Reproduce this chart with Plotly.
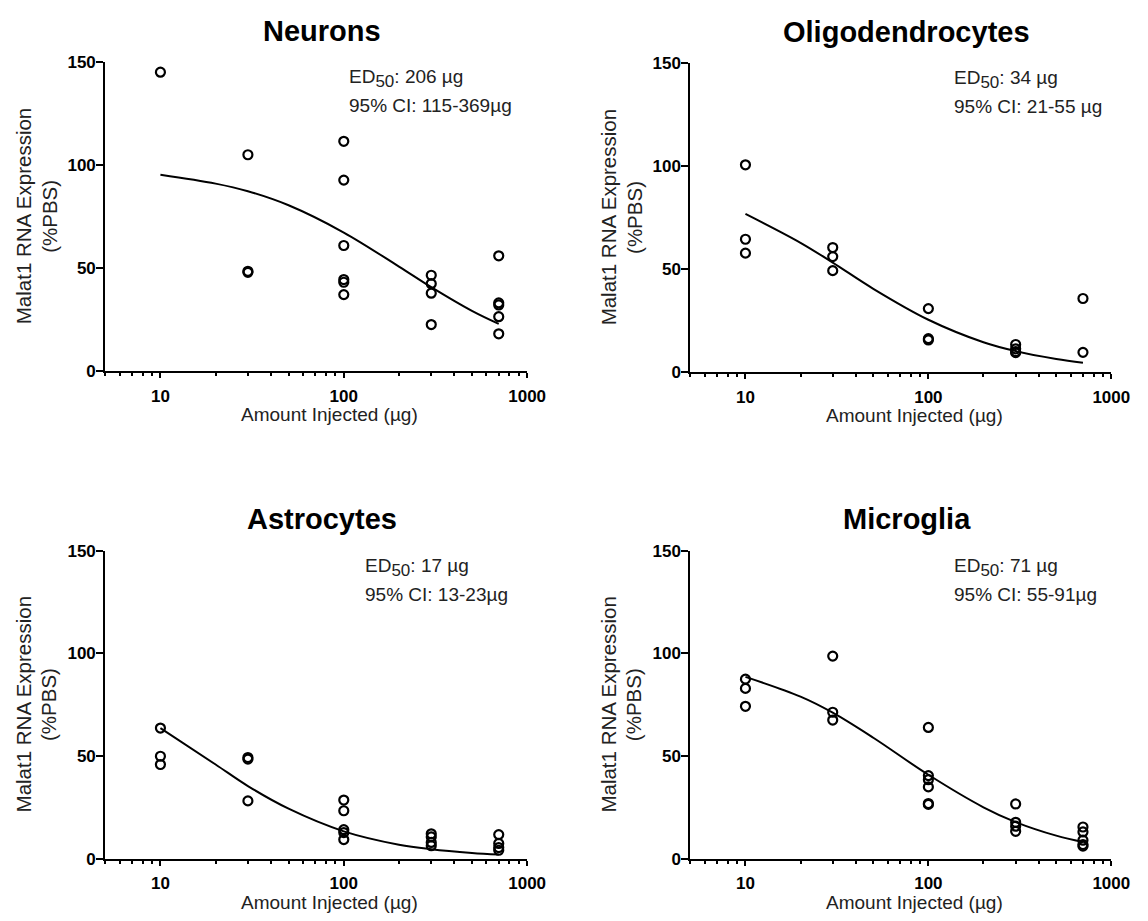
import plotly.graph_objects as go

# ---------------- data ----------------
doses = [10, 30, 100, 300, 700]
curve_doses = [10, 20, 30, 50, 100, 200, 300, 500, 700]

panel_titles = ["Neurons", "Oligodendrocytes", "Astrocytes", "Microglia"]
SUB = "ED<sub><span style='font-size:17px'>50</span></sub>"
ed50_labels = [SUB + ": 206 µg", SUB + ": 34 µg", SUB + ": 17 µg", SUB + ": 71 µg"]
ci_labels = ["95% CI: 115-369µg", "95% CI: 21-55 µg",
             "95% CI: 13-23µg", "95% CI: 55-91µg"]

# points grouped by dose (10, 30, 100, 300, 700 µg)
neurons_points = [[145], [105, 48.5, 48], [111.5, 92.7, 61, 44.5, 43.2, 37.2],
                  [46.6, 42.5, 37.9, 22.7], [56, 33.2, 32.2, 26.5, 18.2]]
oligo_points = [[100.6, 64.5, 57.8], [60.5, 56.1, 49.3], [30.9, 16.3, 15.7],
                [13.5, 11.4, 10.0, 9.6], [35.8, 9.7]]
astro_points = [[63.7, 50, 46], [49.4, 48.6, 28.3], [28.7, 23.5, 14.3, 12.9, 9.5],
                [12.3, 10.8, 8.1, 6.5], [11.9, 7.6, 5.6, 4.3]]
micro_points = [[87.5, 83, 74.3], [98.7, 71.4, 67.6], [64, 40.6, 38.6, 35.1, 27, 26.6],
                [26.8, 17.9, 16.0, 13.5], [15.6, 13.2, 9.2, 7.1, 6.3]]

# fitted curves at curve_doses
neurons_curve = [95.3, 91, 87.3, 80.5, 67.3, 50.8, 40.8, 29.3, 23]
oligo_curve = [76.8, 62.8, 53.2, 40.5, 25.5, 14.6, 10.3, 6.5, 4.6]
astro_curve = [63.7, 46, 35.5, 24.5, 13.5, 7, 4.8, 3, 2.2]
micro_curve = [88.6, 79, 71.2, 59, 41, 25.2, 18, 11.4, 8.3]

y_ticks = [0, 50, 100, 150]
x_ticks = [10, 100, 1000]
x_tick_text = ["10", "100", "1000"]

# ---------------- layout helpers ----------------
W, H = 1148, 921
FONT = "Arial, Liberation Sans, sans-serif"


def px(x):
    return x / W


def py(y):
    return 1 - y / H


# pixel boxes of each plot area: (left, right, top, bottom)
boxes = [(107, 536, 54, 370), (702, 1130, 55, 371),
         (107, 536, 553, 868), (702, 1130, 553, 868)]

points_all = [neurons_points, oligo_points, astro_points, micro_points]
curves_all = [neurons_curve, oligo_curve, astro_curve, micro_curve]

fig = go.Figure()
annotations = []

for i in range(4):
    xa = "x" if i == 0 else f"x{i + 1}"
    ya = "y" if i == 0 else f"y{i + 1}"
    xs, ys = [], []
    for d, vals in zip(doses, points_all[i]):
        for v in vals:
            xs.append(d)
            ys.append(v)
    fig.add_trace(go.Scatter(
        x=curve_doses, y=curves_all[i], mode="lines",
        line=dict(color="black", width=2, shape="spline", smoothing=1.0),
        xaxis=xa, yaxis=ya, showlegend=False, hoverinfo="skip"))
    fig.add_trace(go.Scatter(
        x=xs, y=ys, mode="markers",
        marker=dict(symbol="circle-open", size=9, color="black",
                    line=dict(color="black", width=2.2)),
        xaxis=xa, yaxis=ya, showlegend=False))

    l, r, t, b = boxes[i]
    axis_x = dict(
        type="log", range=[0.69897, 3.0], domain=[px(l), px(r)],
        anchor=ya, showline=True, linecolor="black", linewidth=2,
        showgrid=False, zeroline=False,
        tickmode="array", tickvals=x_ticks, ticktext=x_tick_text,
        ticks="outside", ticklen=5, tickwidth=2, tickcolor="black",
        ticklabelstandoff=3,
        tickfont=dict(family=FONT, size=17, color="black", weight="bold"),
        minor=dict(ticks="outside", ticklen=3, tickwidth=1.5,
                   tickcolor="black", dtick="D1", showgrid=False),
    )
    axis_y = dict(
        range=[0, 150], domain=[py(b), py(t)], anchor=xa,
        showline=True, linecolor="black", linewidth=2,
        showgrid=False, zeroline=False,
        tickmode="array", tickvals=y_ticks,
        ticks="outside", ticklen=7, tickwidth=2, tickcolor="black",
        ticklabelstandoff=-3,
        tickfont=dict(family=FONT, size=17, color="black", weight="bold"),
    )
    key = "" if i == 0 else str(i + 1)
    fig.update_layout(**{f"xaxis{key}": axis_x, f"yaxis{key}": axis_y})

    cx = (l + r) / 2
    # panel title
    annotations.append(dict(
        x=px(cx + 6), y=py(t - 32), xref="paper", yref="paper",
        text=f"<b>{panel_titles[i]}</b>", showarrow=False,
        xanchor="center", yanchor="middle",
        font=dict(family=FONT, size=29, color="black")))
    # x axis title
    annotations.append(dict(
        x=px(cx + 14), y=py(b + 44), xref="paper", yref="paper",
        text="Amount Injected (µg)", showarrow=False,
        xanchor="center", yanchor="middle",
        font=dict(family=FONT, size=19, color="#222")))
    # y axis title (two lines)
    cy = (t + b) / 2
    annotations.append(dict(
        x=px(l - 83), y=py(cy), xref="paper", yref="paper",
        text="Malat1 RNA Expression", showarrow=False, textangle=-90,
        xanchor="center", yanchor="middle",
        font=dict(family=FONT, size=20.5, color="#222")))
    annotations.append(dict(
        x=px(l - 57), y=py(cy), xref="paper", yref="paper",
        text="(%PBS)", showarrow=False, textangle=-90,
        xanchor="center", yanchor="middle",
        font=dict(family=FONT, size=20.5, color="#222")))
    # ED50 annotations
    offs = [246, 266, 262, 266][i]
    annotations.append(dict(
        x=px(l + offs), y=py(t + 17), xref="paper", yref="paper",
        text=ed50_labels[i], showarrow=False,
        xanchor="left", yanchor="middle",
        font=dict(family=FONT, size=19, color="#222")))
    annotations.append(dict(
        x=px(l + offs), y=py(t + 45), xref="paper", yref="paper",
        text=ci_labels[i], showarrow=False,
        xanchor="left", yanchor="middle",
        font=dict(family=FONT, size=19, color="#222")))

fig.update_layout(
    width=W, height=H, margin=dict(l=0, r=0, t=0, b=0),
    paper_bgcolor="white", plot_bgcolor="white",
    annotations=annotations, showlegend=False,
    font=dict(family=FONT),
)

fig.write_html("out.html")
